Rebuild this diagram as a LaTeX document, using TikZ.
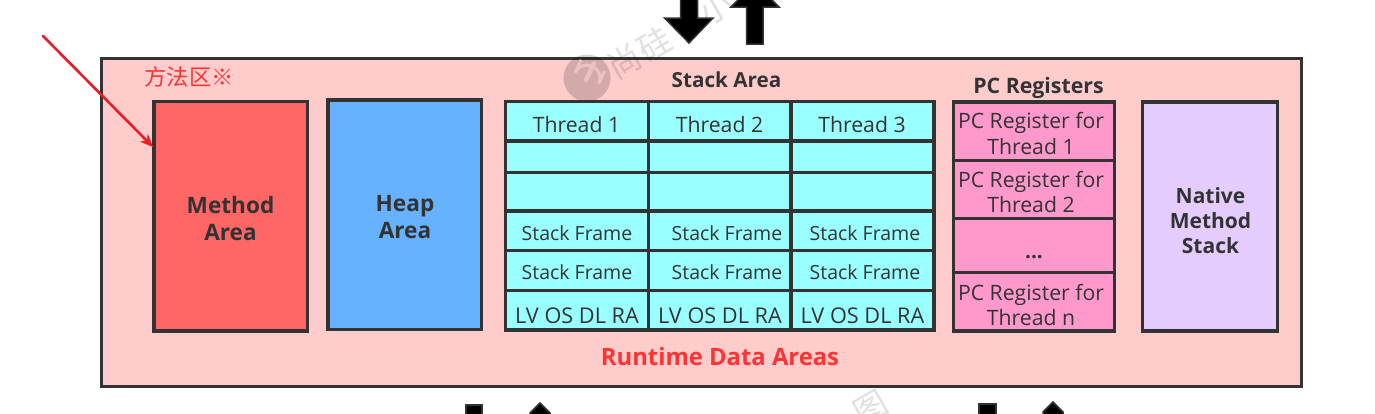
\documentclass[tikz,border=0pt]{standalone}
\usepackage{fontspec}
\setmainfont{Open Sans}
\newfontfamily\cjk{Noto Sans CJK SC}
\usetikzlibrary{arrows.meta}
\definecolor{ink}{HTML}{333333}
\definecolor{outerfill}{HTML}{FFCCCC}
\definecolor{methodfill}{HTML}{FF6666}
\definecolor{heapfill}{HTML}{66B2FF}
\definecolor{cellfill}{HTML}{99FFFF}
\definecolor{pcfill}{HTML}{FF99CC}
\definecolor{nativefill}{HTML}{E5CCFF}
\definecolor{redtxt}{HTML}{FF3333}
\definecolor{annot}{HTML}{ED1C24}
\tikzset{
  x=1bp,y=-1bp,
  box/.style={draw=ink,line width=3.2bp},
  cell/.style={box,fill=cellfill},
  pccell/.style={box,fill=pcfill},
  bigarrow/.style={draw=ink,line width=1.5bp,fill=black},
  reg/.style={font=\fontsize{21.2bp}{25.5bp}\selectfont,text=ink,align=center,inner sep=0pt},
  lv/.style={font=\fontsize{21.7bp}{25bp}\selectfont,text=ink,inner sep=0pt},
  small/.style={font=\fontsize{19.5bp}{24bp}\selectfont,text=ink,inner sep=0pt},
  head/.style={font=\bfseries\fontsize{20.7bp}{24bp}\selectfont,text=ink,inner sep=0pt},
  title/.style={font=\bfseries\fontsize{22.6bp}{27bp}\selectfont,text=ink,align=center,inner sep=0pt},
  titlesmall/.style={font=\bfseries\fontsize{21bp}{25bp}\selectfont,text=ink,align=center,inner sep=0pt},
  wm/.style={font=\cjk\fontsize{33bp}{33bp}\selectfont,text=black,opacity=0.12,rotate=30,inner sep=0pt},
}
\begin{document}
\begin{tikzpicture}
\useasboundingbox (0,0) rectangle (1375,413);
\clip (0,0) rectangle (1375,413);
% top and bottom arrows
\path[bigarrow] (680.5,-10) -- (697.5,-10) -- (697.5,18) -- (713,18) -- (689,43) -- (664.5,18) -- (680.5,18) -- cycle;
\path[bigarrow] (746.5,44) -- (763,44) -- (763,7) -- (779,7) -- (755,-17) -- (731,7) -- (746.5,7) -- cycle;
\path[bigarrow] (466,430) -- (466,405) -- (482,405) -- (482,430) -- cycle;
\path[bigarrow] (530,430) -- (530,413) -- (540,403) -- (550,413) -- (550,430) -- cycle;
\path[bigarrow] (979,430) -- (979,404) -- (996,404) -- (996,430) -- cycle;
\path[bigarrow] (1043,430) -- (1043,412) -- (1053,402) -- (1063,412) -- (1063,430) -- cycle;
% outer frame
\node[box,fill=outerfill,minimum width=1200bp,minimum height=328bp,inner sep=0pt] (outer) at (701.5,222.5) {};
% watermark
\fill[black,opacity=0.17] (587,78) circle[radius=23.5];
\begin{scope}[rotate around={-25:(587,78)}]
\draw[outerfill!85!gray,line width=3bp] (574,64) -- (574,78) arc[start angle=180,end angle=360,radius=13] -- (600,64);
\draw[outerfill!85!gray,line width=4.5bp,line cap=round] (587,80) -- (587,62);
\end{scope}
\node[wm] (wma) at (625,61) {尚};
\node[wm] (wmb) at (654,44) {硅};
\node[wm] (wmc) at (716,8) {小};
\node[wm] (wmd) at (871,408) {图};
% method & heap
\node[box,fill=methodfill,minimum width=153.5bp,minimum height=229.5bp,inner sep=0pt] (method) at (230.75,216.25) {};
\node[title] (methodtxt) at (230.5,218.5) {Method\\Area};
\node[box,fill=heapfill,minimum width=153.5bp,minimum height=229.5bp,inner sep=0pt] (heap) at (404.75,214.75) {};
\node[title] (heaptxt) at (405,217) {Heap\\Area};
% stack area
\node[head] (stacktitle) at (726.5,80) {Stack Area};
\foreach \cx/\nm/\lbl/\tx/\fx in {577/a/1/576.5/577,720/b/2/719.5/727,862.5/c/3/862/865}{
  \node[cell,minimum width=143bp,minimum height=39.5bp,inner sep=0pt] (th\nm) at (\cx,121.25) {};
  \node[reg] (tht\nm) at (\tx,125) {Thread \lbl};
  \node[cell,minimum width=143bp,minimum height=31.5bp,inner sep=0pt] (e\nm) at (\cx,156.75) {};
  \node[cell,minimum width=143bp,minimum height=38.5bp,inner sep=0pt] (f\nm) at (\cx,191.75) {};
  \node[cell,minimum width=143bp,minimum height=39.5bp,inner sep=0pt] (s\nm) at (\cx,230.75) {};
  \node[small] (st\nm) at (\fx,233) {Stack Frame};
  \node[cell,minimum width=143bp,minimum height=40bp,inner sep=0pt] (r\nm) at (\cx,270.5) {};
  \node[small] (rt\nm) at (\fx,272.5) {Stack Frame};
  \node[cell,minimum width=143bp,minimum height=39.5bp,inner sep=0pt] (l\nm) at (\cx,310.25) {};
  \node[lv] (lt\nm) at (\cx,316) {LV OS DL RA};
}
% pc registers
\node[head,font=\bfseries\fontsize{21.3bp}{24bp}\selectfont] (pctitle) at (1038.5,88) {PC Registers};
\node[pccell,minimum width=161bp,minimum height=58.5bp,inner sep=0pt] (pc1) at (1034,131.25) {};
\node[pccell,minimum width=161bp,minimum height=58.2bp,inner sep=0pt] (pc2) at (1034,189.6) {};
\node[pccell,minimum width=161bp,minimum height=53.8bp,inner sep=0pt] (pc3) at (1034,245.6) {};
\node[pccell,minimum width=161bp,minimum height=58.5bp,inner sep=0pt] (pc4) at (1034,301.75) {};
\node[reg] (pct1) at (1031,133.5) {PC Register for\\Thread 1};
\node[reg] (pct2) at (1031,192) {PC Register for\\Thread 2};
\node[head] (pct3) at (1034,257) {...};
\node[reg] (pct4) at (1031,305) {PC Register for\\Thread n};
% native
\node[box,fill=nativefill,minimum width=134.8bp,minimum height=229bp,inner sep=0pt] (native) at (1210.1,216.5) {};
\node[titlesmall] (nativetxt) at (1210.5,220.5) {Native\\Method\\Stack};
% captions
\node[font=\bfseries\fontsize{23.8bp}{25bp}\selectfont,text=redtxt,inner sep=0pt] (runtime) at (720,357) {Runtime Data Areas};
\node[font=\cjk\fontsize{22.3bp}{25bp}\selectfont,text=redtxt,inner sep=0pt] (fangfa) at (189,77) {方法区※};
% annotation arrow
\coordinate (arrstart) at (43,36);
\coordinate (arrend) at (153,147);
\draw[annot,line width=2.6bp,line cap=round,-{Stealth[length=13bp,width=11bp]}] (arrstart) -- (arrend);
\end{tikzpicture}
\end{document}
